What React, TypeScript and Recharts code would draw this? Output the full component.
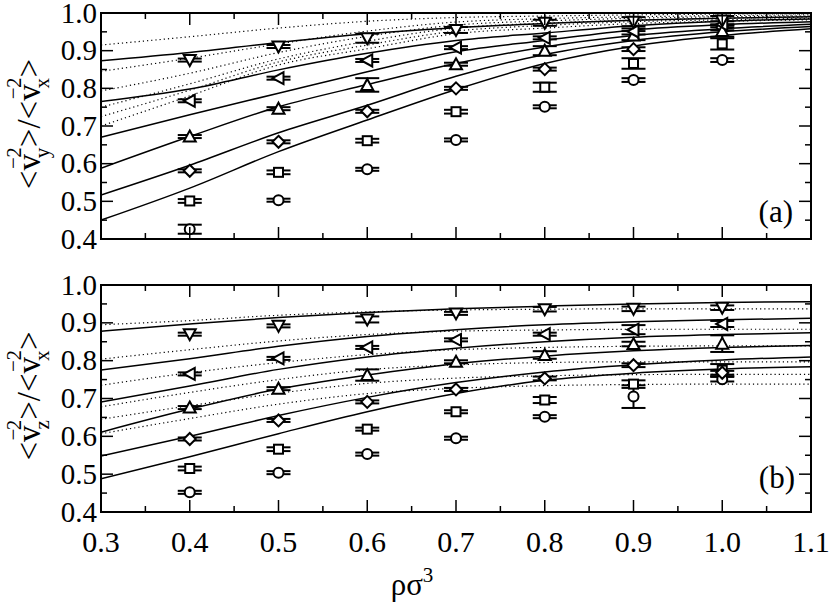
import React from "react"
import { ComposedChart, Line, Scatter, ErrorBar, XAxis, YAxis, ReferenceArea } from "recharts"

// densities where the simulation points sit
const rho = [0.4, 0.5, 0.6, 0.7, 0.8, 0.9, 1.0]
// densities where the theory curves were read
const curveRho = [0.3, 0.4, 0.5, 0.6, 0.7, 0.8, 0.9, 1.0, 1.1]

const xTicks = [0.3, 0.35, 0.4, 0.45, 0.5, 0.55, 0.6, 0.65, 0.7, 0.75, 0.8, 0.85, 0.9, 0.95, 1.0, 1.05, 1.1]
const yTicks = [0.4, 0.45, 0.5, 0.55, 0.6, 0.65, 0.7, 0.75, 0.8, 0.85, 0.9, 0.95, 1.0]

// panel (a): <vy^2>/<vx^2>
const aCircle = [0.426, 0.503, 0.585, 0.663, 0.751, 0.822, 0.875]
const aSquare = [0.501, 0.577, 0.661, 0.738, 0.803, 0.866, 0.918]
const aDiamond = [0.581, 0.658, 0.739, 0.8, 0.851, 0.904, 0.962]
const aUp = [0.672, 0.746, 0.809, 0.864, 0.9, 0.94, 0.952]
const aLeft = [0.767, 0.827, 0.874, 0.908, 0.934, 0.951, 0.97]
const aDown = [0.875, 0.911, 0.933, 0.955, 0.974, 0.977, 0.98]

const aCircleErr = [0.012, 0.004, 0.004, 0.004, 0.004, 0.005, 0.005]
const aSquareErr = [0.005, 0.005, 0.005, 0.005, 0.012, 0.014, 0.015]
const aDiamondErr = [0.004, 0.004, 0.004, 0.004, 0.004, 0.005, 0.008]
const aUpErr = [0.004, 0.004, 0.018, 0.004, 0.012, 0.012, 0.015]
const aLeftErr = [0.004, 0.004, 0.004, 0.004, 0.004, 0.008, 0.008]
const aDownErr = [0.004, 0.004, 0.012, 0.008, 0.008, 0.012, 0.012]

const aSolid1 = [0.873, 0.895, 0.922, 0.945, 0.961, 0.972, 0.981, 0.986, 0.99]
const aSolid2 = [0.765, 0.798, 0.849, 0.893, 0.927, 0.947, 0.966, 0.978, 0.984]
const aSolid3 = [0.67, 0.73, 0.787, 0.844, 0.897, 0.927, 0.955, 0.969, 0.977]
const aSolid4 = [0.588, 0.672, 0.751, 0.81, 0.866, 0.91, 0.94, 0.958, 0.97]
const aSolid5 = [0.517, 0.596, 0.682, 0.755, 0.832, 0.89, 0.927, 0.95, 0.964]
const aSolid6 = [0.45, 0.535, 0.632, 0.716, 0.797, 0.866, 0.912, 0.94, 0.958]

const aDot1 = [0.915, 0.937, 0.96, 0.978, 0.988, 0.992, 0.995, 0.997, 0.998]
const aDot2 = [0.845, 0.88, 0.918, 0.952, 0.976, 0.985, 0.99, 0.993, 0.995]
const aDot3 = [0.793, 0.84, 0.895, 0.938, 0.968, 0.979, 0.986, 0.99, 0.992]
const aDot4 = [0.75, 0.812, 0.878, 0.925, 0.96, 0.973, 0.981, 0.986, 0.989]
const aDot5 = [0.725, 0.795, 0.87, 0.915, 0.952, 0.967, 0.977, 0.982, 0.986]
const aDot6 = [0.7, 0.78, 0.862, 0.905, 0.945, 0.96, 0.972, 0.978, 0.982]

// panel (b): <vz^2>/<vx^2>
const bCircle = [0.452, 0.504, 0.553, 0.595, 0.652, 0.705, 0.751]
const bSquare = [0.515, 0.566, 0.619, 0.665, 0.696, 0.738, 0.775]
const bDiamond = [0.593, 0.642, 0.691, 0.724, 0.753, 0.788, 0.768]
const bUp = [0.676, 0.726, 0.762, 0.797, 0.815, 0.844, 0.845]
const bLeft = [0.765, 0.806, 0.835, 0.855, 0.87, 0.882, 0.897]
const bDown = [0.87, 0.892, 0.909, 0.925, 0.936, 0.937, 0.94]

const bCircleErr = [0.004, 0.004, 0.004, 0.004, 0.004, 0.03, 0.006]
const bSquareErr = [0.005, 0.005, 0.004, 0.004, 0.008, 0.01, 0.016]
const bDiamondErr = [0.004, 0.004, 0.004, 0.004, 0.005, 0.005, 0.005]
const bUpErr = [0.004, 0.004, 0.015, 0.004, 0.01, 0.006, 0.022]
const bLeftErr = [0.004, 0.004, 0.004, 0.004, 0.004, 0.012, 0.008]
const bDownErr = [0.004, 0.004, 0.008, 0.004, 0.006, 0.006, 0.006]

const bSolid1 = [0.878, 0.897, 0.914, 0.927, 0.937, 0.944, 0.95, 0.954, 0.956]
const bSolid2 = [0.775, 0.805, 0.838, 0.864, 0.882, 0.895, 0.903, 0.908, 0.912]
const bSolid3 = [0.691, 0.733, 0.777, 0.81, 0.833, 0.85, 0.862, 0.869, 0.874]
const bSolid4 = [0.611, 0.672, 0.725, 0.762, 0.792, 0.812, 0.826, 0.835, 0.84]
const bSolid5 = [0.548, 0.6, 0.655, 0.703, 0.742, 0.77, 0.789, 0.802, 0.81]
const bSolid6 = [0.488, 0.546, 0.607, 0.665, 0.713, 0.748, 0.767, 0.778, 0.784]

const bDot1 = [0.895, 0.906, 0.92, 0.929, 0.934, 0.936, 0.937, 0.937, 0.937]
const bDot2 = [0.804, 0.829, 0.852, 0.869, 0.878, 0.881, 0.883, 0.883, 0.883]
const bDot3 = [0.735, 0.768, 0.795, 0.816, 0.829, 0.835, 0.838, 0.839, 0.839]
const bDot4 = [0.678, 0.716, 0.75, 0.776, 0.789, 0.795, 0.797, 0.797, 0.797]
const bDot5 = [0.645, 0.681, 0.714, 0.74, 0.754, 0.76, 0.763, 0.764, 0.764]
const bDot6 = [0.607, 0.647, 0.685, 0.713, 0.727, 0.734, 0.737, 0.738, 0.738]

const FONT = "'Liberation Serif', 'Times New Roman', serif"
const W = 830
const PLOT_LEFT = 101
const PLOT_RIGHT = 811
const PLOT_W = PLOT_RIGHT - PLOT_LEFT

type Kind = "circle" | "square" | "diamond" | "up" | "left" | "down"

const Marker = (kind: Kind) => (props: any) => {
  const { cx, cy } = props
  if (cx == null || cy == null) return <g />
  const common = { fill: "#fff", stroke: "#000", strokeWidth: 2 }
  switch (kind) {
    case "circle":
      return <circle cx={cx} cy={cy} r={5} {...common} />
    case "square":
      return <rect x={cx - 4.5} y={cy - 4.5} width={9} height={9} {...common} />
    case "diamond":
      return <polygon points={`${cx},${cy - 6} ${cx + 6},${cy} ${cx},${cy + 6} ${cx - 6},${cy}`} {...common} />
    case "up":
      return <polygon points={`${cx},${cy - 6} ${cx + 6},${cy + 5} ${cx - 6},${cy + 5}`} {...common} />
    case "left":
      return <polygon points={`${cx - 6},${cy} ${cx + 5},${cy - 6} ${cx + 5},${cy + 6}`} {...common} />
    default:
      return <polygon points={`${cx},${cy + 6} ${cx - 6},${cy - 5} ${cx + 6},${cy - 5}`} {...common} />
  }
}

const isMajor = (v: number) => Math.round(v * 100) % 10 === 0

const makeXTick = (plotH: number, showLabel: boolean) => (props: any) => {
  const { x, y, payload } = props
  const v = payload.value as number
  const len = isMajor(v) ? 12 : 6
  return (
    <g>
      <line x1={x} x2={x} y1={y} y2={y - len} stroke="#000" strokeWidth={1.5} />
      <line x1={x} x2={x} y1={y - plotH} y2={y - plotH + len} stroke="#000" strokeWidth={1.5} />
      {showLabel && isMajor(v) && (
        <text x={x} y={y + 40} textAnchor="middle" fontFamily={FONT} fontSize={30} fill="#000">
          {v.toFixed(1)}
        </text>
      )}
    </g>
  )
}

const YTick = (props: any) => {
  const { x, y, payload } = props
  const v = payload.value as number
  const len = isMajor(v) ? 12 : 6
  return (
    <g>
      <line x1={x} x2={x + len} y1={y} y2={y} stroke="#000" strokeWidth={1.5} />
      <line x1={x + PLOT_W} x2={x + PLOT_W - len} y1={y} y2={y} stroke="#000" strokeWidth={1.5} />
      {isMajor(v) && (
        <text x={x - 4} y={y + 9.5} textAnchor="end" fontFamily={FONT} fontSize={29} fill="#000">
          {v.toFixed(1)}
        </text>
      )}
    </g>
  )
}

const curveRows = (solids: number[][], dots: number[][]) =>
  curveRho.map((x, i) => {
    const row: any = { x }
    solids.forEach((s, k) => (row["s" + k] = s[i]))
    dots.forEach((d, k) => (row["d" + k] = d[i]))
    return row
  })

const pts = (ys: number[], es: number[]) => rho.map((x, i) => ({ x, y: ys[i], e: es[i] }))

type PanelProps = {
  top: number
  height: number
  plotTop: number
  plotBottom: number
  solids: number[][]
  dots: number[][]
  series: { kind: Kind; ys: number[]; es: number[] }[]
  showX: boolean
}

function Panel({ top, height, plotTop, plotBottom, solids, dots, series, showX }: PanelProps) {
  const rows = curveRows(solids, dots)
  const plotH = plotBottom - plotTop
  const below = top + height - plotBottom
  return (
    <div style={{ position: "absolute", left: 0, top, width: W, height }}>
      <ComposedChart
        width={W}
        height={height}
        data={rows}
        margin={{ top: plotTop - top, bottom: 0, left: 0, right: W - PLOT_RIGHT }}
      >
        <XAxis
          dataKey="x"
          type="number"
          domain={[0.3, 1.1]}
          ticks={xTicks}
          interval={0}
          allowDataOverflow
          height={below}
          tickSize={0}
          tickMargin={0}
          axisLine={false}
          tick={makeXTick(plotH, showX)}
        />
        <YAxis
          type="number"
          domain={[0.4, 1.0]}
          ticks={yTicks}
          interval={0}
          allowDataOverflow
          width={PLOT_LEFT}
          tickSize={0}
          tickMargin={0}
          axisLine={false}
          tick={YTick}
        />
        {dots.map((_, k) => (
          <Line
            key={"d" + k}
            dataKey={"d" + k}
            type="monotone"
            stroke="#000"
            strokeWidth={1.2}
            strokeDasharray="1.2 3"
            dot={false}
            activeDot={false}
            isAnimationActive={false}
          />
        ))}
        {solids.map((_, k) => (
          <Line
            key={"s" + k}
            dataKey={"s" + k}
            type="monotone"
            stroke="#000"
            strokeWidth={1.5}
            dot={false}
            activeDot={false}
            isAnimationActive={false}
          />
        ))}
        {series.map((s) => (
          <Scatter key={s.kind} data={pts(s.ys, s.es)} dataKey="y" shape={Marker(s.kind)} isAnimationActive={false}>
            <ErrorBar dataKey="e" direction="y" width={12} stroke="#000" strokeWidth={2} />
          </Scatter>
        ))}
        <ReferenceArea x1={0.3} x2={1.1} y1={0.4} y2={1.0} fill="none" stroke="#000" strokeWidth={2} ifOverflow="visible" />
      </ComposedChart>
    </div>
  )
}

function YLabel({ cx, cy, comp }: { cx: number; cy: number; comp: string }) {
  return (
    <text transform={`translate(${cx},${cy}) rotate(-90)`} textAnchor="middle" fontFamily={FONT} fontSize={33} fill="#000">
      <tspan>{"<v"}</tspan>
      <tspan dx={-15} dy={-20} fontSize={21}>−</tspan>
      <tspan dx={-1} dy={29} fontSize={21}>{comp}</tspan>
      <tspan dx={-10} dy={-28} fontSize={21}>2</tspan>
      <tspan dy={19}>{">/<v"}</tspan>
      <tspan dx={-15} dy={-20} fontSize={21}>−</tspan>
      <tspan dx={-1} dy={29} fontSize={21}>x</tspan>
      <tspan dx={-10} dy={-28} fontSize={21}>2</tspan>
      <tspan dy={19}>{">"}</tspan>
    </text>
  )
}

export default function App() {
  return (
    <div style={{ position: "absolute", left: 0, top: 0, width: W, height: 604, background: "#fff" }}>
      <Panel
        top={0}
        height={262}
        plotTop={13}
        plotBottom={239}
        solids={[aSolid1, aSolid2, aSolid3, aSolid4, aSolid5, aSolid6]}
        dots={[aDot1, aDot2, aDot3, aDot4, aDot5, aDot6]}
        series={[
          { kind: "circle", ys: aCircle, es: aCircleErr },
          { kind: "square", ys: aSquare, es: aSquareErr },
          { kind: "diamond", ys: aDiamond, es: aDiamondErr },
          { kind: "up", ys: aUp, es: aUpErr },
          { kind: "left", ys: aLeft, es: aLeftErr },
          { kind: "down", ys: aDown, es: aDownErr },
        ]}
        showX={false}
      />
      <Panel
        top={262}
        height={342}
        plotTop={285}
        plotBottom={512}
        solids={[bSolid1, bSolid2, bSolid3, bSolid4, bSolid5, bSolid6]}
        dots={[bDot1, bDot2, bDot3, bDot4, bDot5, bDot6]}
        series={[
          { kind: "circle", ys: bCircle, es: bCircleErr },
          { kind: "square", ys: bSquare, es: bSquareErr },
          { kind: "diamond", ys: bDiamond, es: bDiamondErr },
          { kind: "up", ys: bUp, es: bUpErr },
          { kind: "left", ys: bLeft, es: bLeftErr },
          { kind: "down", ys: bDown, es: bDownErr },
        ]}
        showX={true}
      />
      <svg width={W} height={604} style={{ position: "absolute", left: 0, top: 0, pointerEvents: "none" }}>
        <YLabel cx={40} cy={124} comp="y" />
        <YLabel cx={40} cy={396} comp="z" />
        <text x={793} y={222} textAnchor="end" fontFamily={FONT} fontSize={31}>(a)</text>
        <text x={795} y={488} textAnchor="end" fontFamily={FONT} fontSize={31}>(b)</text>
        <text x={412} y={595} textAnchor="middle" fontFamily={FONT} fontSize={31}>
          ρσ<tspan dy={-13} fontSize={21}>3</tspan>
        </text>
      </svg>
    </div>
  )
}
